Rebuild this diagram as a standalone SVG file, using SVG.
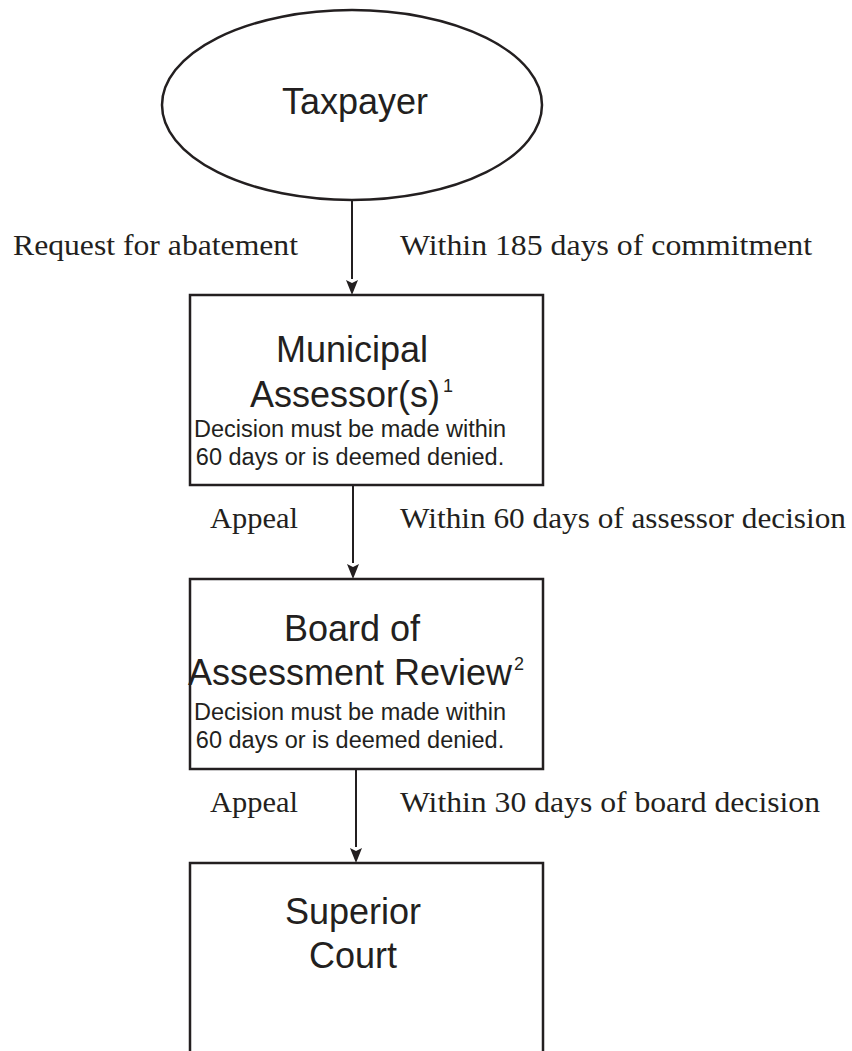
<svg xmlns="http://www.w3.org/2000/svg" width="852" height="1051" viewBox="0 0 852 1051">
<defs>
<style>
.shape{fill:#fff;stroke:#231f20;stroke-width:2.5}
.title{font-family:"Liberation Sans",Arial,sans-serif;font-size:36px;fill:#231f20;text-anchor:middle}
.sub{font-family:"Liberation Sans",Arial,sans-serif;font-size:23.5px;fill:#231f20;text-anchor:middle}
.sup{font-family:"Liberation Sans",Arial,sans-serif;font-size:18px;fill:#231f20}
.lbl{font-family:"Liberation Serif","Times New Roman",serif;font-size:29px;fill:#231f20}
.conn{stroke:#231f20;stroke-width:2;fill:none}
</style>
<marker id="arr" viewBox="0 0 10 16" refX="5" refY="16" markerWidth="10" markerHeight="16" markerUnits="userSpaceOnUse" orient="auto-start-reverse">
<path d="M0,0 L5,3 L10,0 L5,16 Z" fill="#231f20"/>
</marker>
</defs>
<rect width="852" height="1051" fill="#fff"/>
<g id="connectors">
<line class="conn" x1="352" y1="200" x2="352" y2="279"/>
<path d="M346,280 L352,283 L358,280 L352,295 Z" fill="#231f20"/>
<line class="conn" x1="353" y1="485" x2="353" y2="563"/>
<path d="M347,564 L353,567 L359,564 L353,579 Z" fill="#231f20"/>
<line class="conn" x1="356" y1="769" x2="356" y2="847"/>
<path d="M350,848 L356,851 L362,848 L356,863 Z" fill="#231f20"/>
<text class="lbl" x="13" y="255" textLength="285" lengthAdjust="spacingAndGlyphs">Request for abatement</text>
<text class="lbl" x="400" y="255" textLength="412" lengthAdjust="spacingAndGlyphs">Within 185 days of commitment</text>
<text class="lbl" x="210" y="528" textLength="88" lengthAdjust="spacingAndGlyphs">Appeal</text>
<text class="lbl" x="400" y="528" textLength="446" lengthAdjust="spacingAndGlyphs">Within 60 days of assessor decision</text>
<text class="lbl" x="210" y="812" textLength="88" lengthAdjust="spacingAndGlyphs">Appeal</text>
<text class="lbl" x="400" y="812" textLength="420" lengthAdjust="spacingAndGlyphs">Within 30 days of board decision</text>
</g>
<g id="taxpayer">
<ellipse class="shape" cx="352" cy="105" rx="190" ry="95" stroke-width="2"/>
<text class="title" x="355" y="114" font-size="35">Taxpayer</text>
</g>
<g id="assessors">
<rect class="shape" x="190" y="295" width="353" height="190"/>
<text class="title" x="352" y="362">Municipal</text>
<text class="title" x="345" y="407">Assessor(s)</text>
<text class="sup" x="443" y="392" font-size="17">1</text>
<text class="sub" x="350" y="437">Decision must be made within</text>
<text class="sub" x="350" y="465">60 days or is deemed denied.</text>
</g>
<g id="board">
<rect class="shape" x="190" y="579" width="353" height="190"/>
<text class="title" x="352" y="641">Board of</text>
<text class="title" x="350" y="685">Assessment Review</text>
<text class="sup" x="514" y="670" font-size="17">2</text>
<text class="sub" x="350" y="720">Decision must be made within</text>
<text class="sub" x="350" y="748">60 days or is deemed denied.</text>
</g>
<g id="court">
<rect class="shape" x="190" y="863" width="353" height="200"/>
<text class="title" x="353" y="924">Superior</text>
<text class="title" x="353" y="968">Court</text>
</g>
</svg>
